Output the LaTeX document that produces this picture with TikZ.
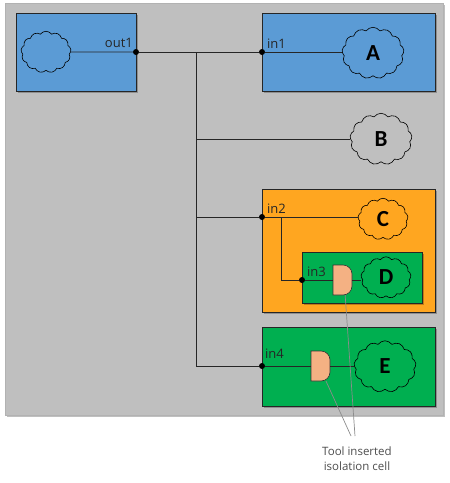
\documentclass[tikz,border=0pt]{standalone}
\usepackage{fontspec}
\setmainfont{Open Sans}
\newfontfamily\letterfont{Carlito}
\usepackage{xcolor}
\usetikzlibrary{shapes,arrows.meta,positioning,calc,shadows}
\definecolor{boxblue}{HTML}{5B9BD5}
\definecolor{boxorange}{HTML}{FFA620}
\definecolor{boxgreen}{HTML}{00AF50}
\definecolor{boxgray}{HTML}{BFBFBF}
\definecolor{gatefill}{HTML}{F4B183}

\begin{document}
\begin{tikzpicture}[
    x=1pt, y=-1pt,
    softshadow/.style={drop shadow={shadow xshift=1.5pt, shadow yshift=-1.5pt, opacity=0.25, fill=black}},
    chip/.style={rectangle, draw=black!85, thick, inner sep=0pt, softshadow},
    b1/.style={chip, fill=boxblue, minimum width=#1, minimum height=78pt},
    b2/.style={chip, fill=boxorange, minimum width=173pt, minimum height=123pt},
    b3/.style={chip, fill=boxgreen, minimum width=173pt, minimum height=79pt},
    blob/.style={cloud, cloud puffs=13, cloud puff arc=110, aspect=1.25, draw=black, line width=0.6pt, inner sep=0pt, minimum width=#1, minimum height=0.83*#1, font=\letterfont\bfseries\fontsize{23}{23}\selectfont},
    iso/.style={rectangle, inner sep=0pt, outer sep=0pt, minimum width=19pt, minimum height=30pt,
        append after command={\pgfextra{\draw [draw=black!80, fill=gatefill, line width=0.6pt]
            (\tikzlastnode.south west) -- (\tikzlastnode.north west) [rounded corners=9pt] -- (\tikzlastnode.north east)
            -- (\tikzlastnode.south east) [sharp corners] -- (\tikzlastnode.south west) -- cycle;}}},
    dot/.style={circle, fill=black, inner sep=0pt, minimum size=6pt},
    pin/.style={font=\fontsize{13}{14}\selectfont, text=black!85, inner sep=0pt},
    wire/.style={line width=0.8pt, draw=black!85},
    lead/.style={line width=0.7pt, draw=black!45}
]
    \useasboundingbox (0,0) rectangle (450,483);

    \node [chip, draw=black!30, fill=boxgray, minimum width=438pt, minimum height=412pt] (chiptop) at (224,209) {};

    \node [b1=120pt] (src) at (76,52) {};
    \node [b1=173pt] (blka) at (348.5,52) {};
    \node [b2] (blkc) at (348.5,250.5) {};
    \node [chip, fill=boxgreen, minimum width=120pt, minimum height=51pt] (blkd) at (362,277.5) {};
    \node [b3] (blke) at (348.5,366.5) {};

    \node [blob=50pt] (csrc) at (46,52) {};
    \node [blob=62pt] (ca) at (373,53) {A};
    \node [blob=62pt] (cb) at (381,139) {B};
    \node [blob=50pt] (cc) at (383,219) {C};
    \node [blob=50pt] (cd) at (386,277.5) {D};
    \node [blob=62pt] (ce) at (385,366.5) {E};

    \node [iso] (gd) at (342.5,280) {};
    \node [iso] (ge) at (320.5,366) {};

    \node [dot] (out1) at (136,52) {};
    \node [dot] (in1) at (262,52) {};
    \node [dot] (in2) at (262,217) {};
    \node [dot] (in3) at (302,280) {};
    \node [dot] (in4) at (262,366) {};

    \coordinate (tap1) at (196,52);
    \coordinate (tapb) at (196,139);
    \coordinate (tapc) at (196,217);
    \coordinate (tape) at (196,366);
    \coordinate (tapd) at (281,217);
    \coordinate (leadd) at (355,436);
    \coordinate (leade) at (351,436);

    \node [pin, anchor=east] (lblout1) at (133,43) {out1};
    \node [pin, anchor=west] (lblin1) at (267,44) {in1};
    \node [pin, anchor=west] (lblin2) at (267,209) {in2};
    \node [pin, anchor=west] (lblin3) at (307,272) {in3};
    \node [pin, anchor=west] (lblin4) at (265,354) {in4};
    \node [align=center, inner sep=0pt, text=black!70, font=\fontsize{11.5}{15}\selectfont] (note) at (357,459) {Tool inserted\\isolation cell};

    \draw [wire] (csrc.east) -- (out1);
    \draw [wire] (out1) -- (in1);
    \draw [wire] (in1) -- (ca.west |- in1);
    \draw [wire] (tap1) -- (tape);
    \draw [wire] (tapb) -- (cb.west |- tapb);
    \draw [wire] (tapc) -- (in2);
    \draw [wire] (in2) -- (cc.west |- in2);
    \draw [wire] (tapd) |- (in3);
    \draw [wire] (in3) -- (gd.west |- in3);
    \draw [wire] (gd.east) -- (cd.west |- gd.east);
    \draw [wire] (tape) -- (in4);
    \draw [wire] (in4) -- (ge.west |- in4);
    \draw [wire] (ge.east) -- (ce.west |- ge.east);

    \draw [lead] (gd.-80) -- (leadd);
    \draw [lead] (ge.-70) -- (leade);
\end{tikzpicture}
\end{document}
